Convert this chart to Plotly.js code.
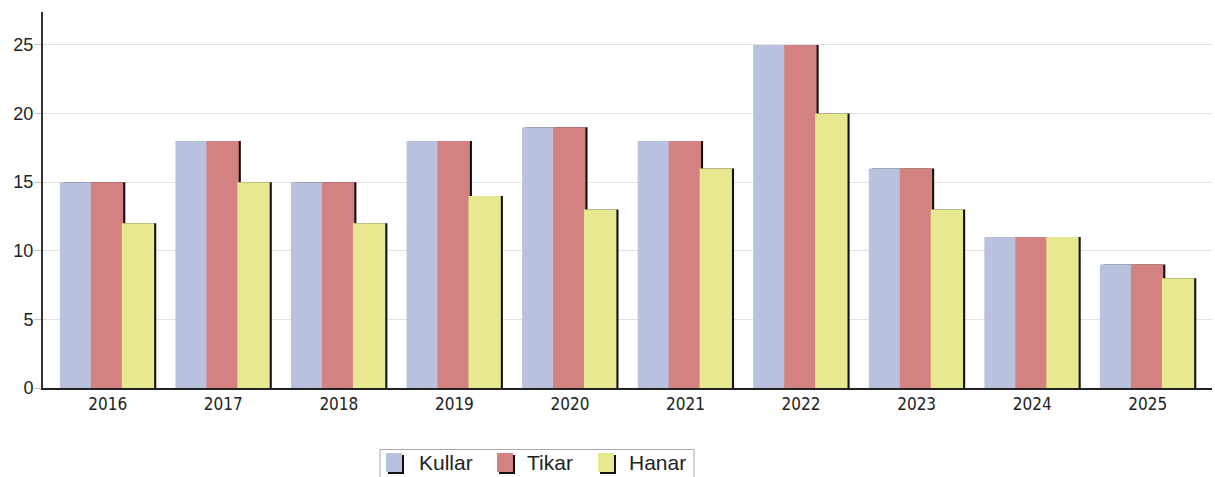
<!DOCTYPE html>
<html><head><meta charset="utf-8">
<script src="https://cdn.plot.ly/plotly-3.0.1.min.js"></script>
<style>html,body{margin:0;padding:0;background:#fff}#c{width:1215px;height:477px}</style>
</head><body><div id="c"></div>
<script>
var years = ['2016','2017','2018','2019','2020','2021','2022','2023','2024','2025'];
var kullar = [15,18,15,18,19,18,25,16,11,9];
var tikar  = [15,18,15,18,19,18,25,16,11,9];
var hanar  = [12,15,12,14,13,16,20,13,11,8];
var names = ['Kullar','Tikar','Hanar'];
var colors = ['#B8C2DE','#D48181','#E8E891'];
var series = [kullar, tikar, hanar];

var w = 0.268, shift = 0.018, ov = 0.012;
var offs = [-1.5*w, -0.5*w, 0.5*w];
var traces = [];
series.forEach(function(vals, i){
  traces.push({type:'bar', x:years, y:vals, width:w, offset:offs[i]+shift,
    marker:{color:'#111', line:{width:0}}, showlegend:false, hoverinfo:'skip'});
  traces.push({type:'bar', x:years, y:vals, width:w+ov, offset:offs[i]-ov, name:names[i],
    marker:{color:colors[i], line:{width:0}}, showlegend:false});
});

// plot area in pixels: left 43, right 1212, top 12, bottom 388
var L = 43, R = 1212, T = 12, B = 388;
function px(x){ return (x - L) / (R - L); }
function py(y){ return (B - y) / (B - T); }

var shapes = [];
var annotations = [];
// legend box
shapes.push({type:'rect', xref:'paper', yref:'paper', x0:px(380), x1:px(694), y0:py(449.5), y1:py(477.5),
  line:{color:'#a8a8a8', width:1}, fillcolor:'#fff', layer:'above'});
var swX = [386, 497, 598];
var txX = [417, 525, 627];
names.forEach(function(n, i){
  shapes.push({type:'rect', xref:'paper', yref:'paper', x0:px(swX[i]+2), x1:px(swX[i]+18), y0:py(455), y1:py(474),
    line:{width:0}, fillcolor:'#111', layer:'above'});
  shapes.push({type:'rect', xref:'paper', yref:'paper', x0:px(swX[i]), x1:px(swX[i]+16), y0:py(453), y1:py(472),
    line:{width:0}, fillcolor:colors[i], layer:'above'});
  annotations.push({xref:'paper', yref:'paper', x:px(txX[i]), y:py(462), xanchor:'left', yanchor:'middle',
    text:n, showarrow:false, font:{size:21, color:'#222', family:'Liberation Sans, Arial, sans-serif'}});
});

var layout = {
  width:1215, height:477,
  margin:{l:L, r:1215-R, t:T, b:477-B},
  barmode:'overlay',
  paper_bgcolor:'#fff', plot_bgcolor:'#fff',
  font:{family:'Liberation Sans, Arial, sans-serif', color:'#222'},
  xaxis:{type:'category', range:[-0.56, 9.556], showgrid:false,
    showline:true, linecolor:'#222', linewidth:2, ticks:'',
    tickfont:{size:17, family:'Liberation Sans Narrow, DejaVu Sans Condensed, Arial Narrow, sans-serif'},
    zeroline:false},
  yaxis:{range:[0, 27.4], dtick:5, showgrid:true, gridcolor:'#e2e2e2', gridwidth:1,
    showline:true, linecolor:'#333', linewidth:2, ticks:'outside', ticklen:7,
    tickcolor:'#c4c4c4', tickfont:{size:18}, zeroline:false, ticklabelstandoff:-3},
  showlegend:false,
  shapes:shapes,
  annotations:annotations
};
Plotly.newPlot('c', traces, layout, {staticPlot:true});
</script></body></html>
